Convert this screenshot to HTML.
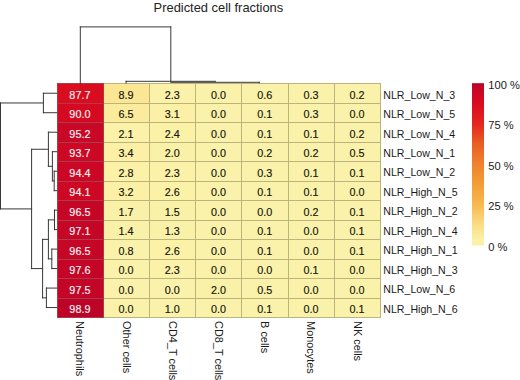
<!DOCTYPE html>
<html><head><meta charset="utf-8"><style>
html,body{margin:0;padding:0;background:#fff;width:520px;height:380px;overflow:hidden;}
svg{display:block;font-family:"Liberation Sans",sans-serif;}
</style></head><body>
<svg width="520" height="380" viewBox="0 0 520 380" font-family="Liberation Sans, sans-serif"><rect x="0" y="0" width="520" height="380" fill="#fff"/>
<text transform="translate(218.4,11.5) scale(1.04,1)" font-size="12.4" text-anchor="middle" fill="#222">Predicted cell fractions</text>
<rect x="57.5" y="83.5" width="46.0" height="20.0" fill="#da0c20"/>
<rect x="103.5" y="83.5" width="46.0" height="20.0" fill="#fae693"/>
<rect x="149.5" y="83.5" width="46.0" height="20.0" fill="#fbf1a8"/>
<rect x="195.5" y="83.5" width="46.0" height="20.0" fill="#faf2ab"/>
<rect x="241.5" y="83.5" width="47.0" height="20.0" fill="#faf2aa"/>
<rect x="288.5" y="83.5" width="46.0" height="20.0" fill="#faf2ab"/>
<rect x="334.5" y="83.5" width="46.0" height="20.0" fill="#faf2ab"/>
<rect x="57.5" y="103.5" width="46.0" height="19.0" fill="#d50a22"/>
<rect x="103.5" y="103.5" width="46.0" height="19.0" fill="#fbeb9c"/>
<rect x="149.5" y="103.5" width="46.0" height="19.0" fill="#fbf0a6"/>
<rect x="195.5" y="103.5" width="46.0" height="19.0" fill="#faf2ab"/>
<rect x="241.5" y="103.5" width="47.0" height="19.0" fill="#faf2ab"/>
<rect x="288.5" y="103.5" width="46.0" height="19.0" fill="#faf2ab"/>
<rect x="334.5" y="103.5" width="46.0" height="19.0" fill="#faf2ab"/>
<rect x="57.5" y="122.5" width="46.0" height="20.0" fill="#c90726"/>
<rect x="103.5" y="122.5" width="46.0" height="20.0" fill="#fbf1a8"/>
<rect x="149.5" y="122.5" width="46.0" height="20.0" fill="#fbf1a7"/>
<rect x="195.5" y="122.5" width="46.0" height="20.0" fill="#faf2ab"/>
<rect x="241.5" y="122.5" width="47.0" height="20.0" fill="#faf2ab"/>
<rect x="288.5" y="122.5" width="46.0" height="20.0" fill="#faf2ab"/>
<rect x="334.5" y="122.5" width="46.0" height="20.0" fill="#faf2ab"/>
<rect x="57.5" y="142.5" width="46.0" height="19.0" fill="#cc0825"/>
<rect x="103.5" y="142.5" width="46.0" height="19.0" fill="#fbf0a6"/>
<rect x="149.5" y="142.5" width="46.0" height="19.0" fill="#faf1a8"/>
<rect x="195.5" y="142.5" width="46.0" height="19.0" fill="#faf2ab"/>
<rect x="241.5" y="142.5" width="47.0" height="19.0" fill="#faf2ab"/>
<rect x="288.5" y="142.5" width="46.0" height="19.0" fill="#faf2ab"/>
<rect x="334.5" y="142.5" width="46.0" height="19.0" fill="#faf2aa"/>
<rect x="57.5" y="161.5" width="46.0" height="20.0" fill="#cb0725"/>
<rect x="103.5" y="161.5" width="46.0" height="20.0" fill="#fbf1a7"/>
<rect x="149.5" y="161.5" width="46.0" height="20.0" fill="#fbf1a8"/>
<rect x="195.5" y="161.5" width="46.0" height="20.0" fill="#faf2ab"/>
<rect x="241.5" y="161.5" width="47.0" height="20.0" fill="#faf2ab"/>
<rect x="288.5" y="161.5" width="46.0" height="20.0" fill="#faf2ab"/>
<rect x="334.5" y="161.5" width="46.0" height="20.0" fill="#faf2ab"/>
<rect x="57.5" y="181.5" width="46.0" height="19.0" fill="#cc0825"/>
<rect x="103.5" y="181.5" width="46.0" height="19.0" fill="#fbf0a6"/>
<rect x="149.5" y="181.5" width="46.0" height="19.0" fill="#fbf1a7"/>
<rect x="195.5" y="181.5" width="46.0" height="19.0" fill="#faf2ab"/>
<rect x="241.5" y="181.5" width="47.0" height="19.0" fill="#faf2ab"/>
<rect x="288.5" y="181.5" width="46.0" height="19.0" fill="#faf2ab"/>
<rect x="334.5" y="181.5" width="46.0" height="19.0" fill="#faf2ab"/>
<rect x="57.5" y="200.5" width="46.0" height="20.0" fill="#c60627"/>
<rect x="103.5" y="200.5" width="46.0" height="20.0" fill="#faf1a8"/>
<rect x="149.5" y="200.5" width="46.0" height="20.0" fill="#faf1a9"/>
<rect x="195.5" y="200.5" width="46.0" height="20.0" fill="#faf2ab"/>
<rect x="241.5" y="200.5" width="47.0" height="20.0" fill="#faf2ab"/>
<rect x="288.5" y="200.5" width="46.0" height="20.0" fill="#faf2ab"/>
<rect x="334.5" y="200.5" width="46.0" height="20.0" fill="#faf2ab"/>
<rect x="57.5" y="220.5" width="46.0" height="19.0" fill="#c50627"/>
<rect x="103.5" y="220.5" width="46.0" height="19.0" fill="#faf1a9"/>
<rect x="149.5" y="220.5" width="46.0" height="19.0" fill="#faf1a9"/>
<rect x="195.5" y="220.5" width="46.0" height="19.0" fill="#faf2ab"/>
<rect x="241.5" y="220.5" width="47.0" height="19.0" fill="#faf2ab"/>
<rect x="288.5" y="220.5" width="46.0" height="19.0" fill="#faf2ab"/>
<rect x="334.5" y="220.5" width="46.0" height="19.0" fill="#faf2ab"/>
<rect x="57.5" y="239.5" width="46.0" height="20.0" fill="#c60627"/>
<rect x="103.5" y="239.5" width="46.0" height="20.0" fill="#faf2aa"/>
<rect x="149.5" y="239.5" width="46.0" height="20.0" fill="#fbf1a7"/>
<rect x="195.5" y="239.5" width="46.0" height="20.0" fill="#faf2ab"/>
<rect x="241.5" y="239.5" width="47.0" height="20.0" fill="#faf2ab"/>
<rect x="288.5" y="239.5" width="46.0" height="20.0" fill="#faf2ab"/>
<rect x="334.5" y="239.5" width="46.0" height="20.0" fill="#faf2ab"/>
<rect x="57.5" y="259.5" width="46.0" height="19.0" fill="#c40528"/>
<rect x="103.5" y="259.5" width="46.0" height="19.0" fill="#faf2ab"/>
<rect x="149.5" y="259.5" width="46.0" height="19.0" fill="#fbf1a8"/>
<rect x="195.5" y="259.5" width="46.0" height="19.0" fill="#faf2ab"/>
<rect x="241.5" y="259.5" width="47.0" height="19.0" fill="#faf2ab"/>
<rect x="288.5" y="259.5" width="46.0" height="19.0" fill="#faf2ab"/>
<rect x="334.5" y="259.5" width="46.0" height="19.0" fill="#faf2ab"/>
<rect x="57.5" y="278.5" width="46.0" height="20.0" fill="#c40528"/>
<rect x="103.5" y="278.5" width="46.0" height="20.0" fill="#faf2ab"/>
<rect x="149.5" y="278.5" width="46.0" height="20.0" fill="#faf2ab"/>
<rect x="195.5" y="278.5" width="46.0" height="20.0" fill="#faf1a8"/>
<rect x="241.5" y="278.5" width="47.0" height="20.0" fill="#faf2aa"/>
<rect x="288.5" y="278.5" width="46.0" height="20.0" fill="#faf2ab"/>
<rect x="334.5" y="278.5" width="46.0" height="20.0" fill="#faf2ab"/>
<rect x="57.5" y="298.5" width="46.0" height="19.0" fill="#bd0327"/>
<rect x="103.5" y="298.5" width="46.0" height="19.0" fill="#faf2ab"/>
<rect x="149.5" y="298.5" width="46.0" height="19.0" fill="#faf2aa"/>
<rect x="195.5" y="298.5" width="46.0" height="19.0" fill="#faf2ab"/>
<rect x="241.5" y="298.5" width="47.0" height="19.0" fill="#faf2ab"/>
<rect x="288.5" y="298.5" width="46.0" height="19.0" fill="#faf2ab"/>
<rect x="334.5" y="298.5" width="46.0" height="19.0" fill="#faf2ab"/>
<g stroke-width="1" fill="none">
<line x1="57.0" y1="83.5" x2="103.5" y2="83.5" stroke="#aa3c4b"/>
<line x1="104.0" y1="83.5" x2="381.0" y2="83.5" stroke="#bdb47c"/>
<line x1="57.0" y1="103.5" x2="103.5" y2="103.5" stroke="#aa3c4b"/>
<line x1="104.0" y1="103.5" x2="381.0" y2="103.5" stroke="#bdb47c"/>
<line x1="57.0" y1="122.5" x2="103.5" y2="122.5" stroke="#aa3c4b"/>
<line x1="104.0" y1="122.5" x2="381.0" y2="122.5" stroke="#bdb47c"/>
<line x1="57.0" y1="142.5" x2="103.5" y2="142.5" stroke="#aa3c4b"/>
<line x1="104.0" y1="142.5" x2="381.0" y2="142.5" stroke="#bdb47c"/>
<line x1="57.0" y1="161.5" x2="103.5" y2="161.5" stroke="#aa3c4b"/>
<line x1="104.0" y1="161.5" x2="381.0" y2="161.5" stroke="#bdb47c"/>
<line x1="57.0" y1="181.5" x2="103.5" y2="181.5" stroke="#aa3c4b"/>
<line x1="104.0" y1="181.5" x2="381.0" y2="181.5" stroke="#bdb47c"/>
<line x1="57.0" y1="200.5" x2="103.5" y2="200.5" stroke="#aa3c4b"/>
<line x1="104.0" y1="200.5" x2="381.0" y2="200.5" stroke="#bdb47c"/>
<line x1="57.0" y1="220.5" x2="103.5" y2="220.5" stroke="#aa3c4b"/>
<line x1="104.0" y1="220.5" x2="381.0" y2="220.5" stroke="#bdb47c"/>
<line x1="57.0" y1="239.5" x2="103.5" y2="239.5" stroke="#aa3c4b"/>
<line x1="104.0" y1="239.5" x2="381.0" y2="239.5" stroke="#bdb47c"/>
<line x1="57.0" y1="259.5" x2="103.5" y2="259.5" stroke="#aa3c4b"/>
<line x1="104.0" y1="259.5" x2="381.0" y2="259.5" stroke="#bdb47c"/>
<line x1="57.0" y1="278.5" x2="103.5" y2="278.5" stroke="#aa3c4b"/>
<line x1="104.0" y1="278.5" x2="381.0" y2="278.5" stroke="#bdb47c"/>
<line x1="57.0" y1="298.5" x2="103.5" y2="298.5" stroke="#aa3c4b"/>
<line x1="104.0" y1="298.5" x2="381.0" y2="298.5" stroke="#bdb47c"/>
<line x1="57.0" y1="317.5" x2="103.5" y2="317.5" stroke="#aa3c4b"/>
<line x1="104.0" y1="317.5" x2="381.0" y2="317.5" stroke="#bdb47c"/>
<line x1="57.5" y1="83.0" x2="57.5" y2="318.0" stroke="#aa3c4b"/>
<line x1="103.5" y1="83.0" x2="103.5" y2="318.0" stroke="#a04038"/>
<line x1="149.5" y1="83.0" x2="149.5" y2="318.0" stroke="#bdb47c"/>
<line x1="195.5" y1="83.0" x2="195.5" y2="318.0" stroke="#bdb47c"/>
<line x1="241.5" y1="83.0" x2="241.5" y2="318.0" stroke="#bdb47c"/>
<line x1="288.5" y1="83.0" x2="288.5" y2="318.0" stroke="#bdb47c"/>
<line x1="334.5" y1="83.0" x2="334.5" y2="318.0" stroke="#bdb47c"/>
<line x1="380.5" y1="83.0" x2="380.5" y2="318.0" stroke="#bdb47c"/>
</g>
<text transform="translate(79.90,98.74) scale(1.04,1)" font-size="10.4" text-anchor="middle" fill="#f8f4f4" stroke="#f8f4f4" stroke-width="0.15">87.7</text>
<text transform="translate(126.10,98.74) scale(1.04,1)" font-size="10.4" text-anchor="middle" fill="#16160c" stroke="#16160c" stroke-width="0.15">8.9</text>
<text transform="translate(172.30,98.74) scale(1.04,1)" font-size="10.4" text-anchor="middle" fill="#16160c" stroke="#16160c" stroke-width="0.15">2.3</text>
<text transform="translate(218.50,98.74) scale(1.04,1)" font-size="10.4" text-anchor="middle" fill="#16160c" stroke="#16160c" stroke-width="0.15">0.0</text>
<text transform="translate(264.70,98.74) scale(1.04,1)" font-size="10.4" text-anchor="middle" fill="#16160c" stroke="#16160c" stroke-width="0.15">0.6</text>
<text transform="translate(310.90,98.74) scale(1.04,1)" font-size="10.4" text-anchor="middle" fill="#16160c" stroke="#16160c" stroke-width="0.15">0.3</text>
<text transform="translate(357.10,98.74) scale(1.04,1)" font-size="10.4" text-anchor="middle" fill="#16160c" stroke="#16160c" stroke-width="0.15">0.2</text>
<text transform="translate(383.3,98.54) scale(1.02,1)" font-size="10.4" fill="#1a1a1a" stroke="#1a1a1a" stroke-width="0.0">NLR_Low_N_3</text>
<text transform="translate(79.90,118.22) scale(1.04,1)" font-size="10.4" text-anchor="middle" fill="#f8f4f4" stroke="#f8f4f4" stroke-width="0.15">90.0</text>
<text transform="translate(126.10,118.22) scale(1.04,1)" font-size="10.4" text-anchor="middle" fill="#16160c" stroke="#16160c" stroke-width="0.15">6.5</text>
<text transform="translate(172.30,118.22) scale(1.04,1)" font-size="10.4" text-anchor="middle" fill="#16160c" stroke="#16160c" stroke-width="0.15">3.1</text>
<text transform="translate(218.50,118.22) scale(1.04,1)" font-size="10.4" text-anchor="middle" fill="#16160c" stroke="#16160c" stroke-width="0.15">0.0</text>
<text transform="translate(264.70,118.22) scale(1.04,1)" font-size="10.4" text-anchor="middle" fill="#16160c" stroke="#16160c" stroke-width="0.15">0.1</text>
<text transform="translate(310.90,118.22) scale(1.04,1)" font-size="10.4" text-anchor="middle" fill="#16160c" stroke="#16160c" stroke-width="0.15">0.3</text>
<text transform="translate(357.10,118.22) scale(1.04,1)" font-size="10.4" text-anchor="middle" fill="#16160c" stroke="#16160c" stroke-width="0.15">0.0</text>
<text transform="translate(383.3,118.02) scale(1.02,1)" font-size="10.4" fill="#1a1a1a" stroke="#1a1a1a" stroke-width="0.0">NLR_Low_N_5</text>
<text transform="translate(79.90,137.71) scale(1.04,1)" font-size="10.4" text-anchor="middle" fill="#f8f4f4" stroke="#f8f4f4" stroke-width="0.15">95.2</text>
<text transform="translate(126.10,137.71) scale(1.04,1)" font-size="10.4" text-anchor="middle" fill="#16160c" stroke="#16160c" stroke-width="0.15">2.1</text>
<text transform="translate(172.30,137.71) scale(1.04,1)" font-size="10.4" text-anchor="middle" fill="#16160c" stroke="#16160c" stroke-width="0.15">2.4</text>
<text transform="translate(218.50,137.71) scale(1.04,1)" font-size="10.4" text-anchor="middle" fill="#16160c" stroke="#16160c" stroke-width="0.15">0.0</text>
<text transform="translate(264.70,137.71) scale(1.04,1)" font-size="10.4" text-anchor="middle" fill="#16160c" stroke="#16160c" stroke-width="0.15">0.1</text>
<text transform="translate(310.90,137.71) scale(1.04,1)" font-size="10.4" text-anchor="middle" fill="#16160c" stroke="#16160c" stroke-width="0.15">0.1</text>
<text transform="translate(357.10,137.71) scale(1.04,1)" font-size="10.4" text-anchor="middle" fill="#16160c" stroke="#16160c" stroke-width="0.15">0.2</text>
<text transform="translate(383.3,137.51) scale(1.02,1)" font-size="10.4" fill="#1a1a1a" stroke="#1a1a1a" stroke-width="0.0">NLR_Low_N_4</text>
<text transform="translate(79.90,157.19) scale(1.04,1)" font-size="10.4" text-anchor="middle" fill="#f8f4f4" stroke="#f8f4f4" stroke-width="0.15">93.7</text>
<text transform="translate(126.10,157.19) scale(1.04,1)" font-size="10.4" text-anchor="middle" fill="#16160c" stroke="#16160c" stroke-width="0.15">3.4</text>
<text transform="translate(172.30,157.19) scale(1.04,1)" font-size="10.4" text-anchor="middle" fill="#16160c" stroke="#16160c" stroke-width="0.15">2.0</text>
<text transform="translate(218.50,157.19) scale(1.04,1)" font-size="10.4" text-anchor="middle" fill="#16160c" stroke="#16160c" stroke-width="0.15">0.0</text>
<text transform="translate(264.70,157.19) scale(1.04,1)" font-size="10.4" text-anchor="middle" fill="#16160c" stroke="#16160c" stroke-width="0.15">0.2</text>
<text transform="translate(310.90,157.19) scale(1.04,1)" font-size="10.4" text-anchor="middle" fill="#16160c" stroke="#16160c" stroke-width="0.15">0.2</text>
<text transform="translate(357.10,157.19) scale(1.04,1)" font-size="10.4" text-anchor="middle" fill="#16160c" stroke="#16160c" stroke-width="0.15">0.5</text>
<text transform="translate(383.3,156.99) scale(1.02,1)" font-size="10.4" fill="#1a1a1a" stroke="#1a1a1a" stroke-width="0.0">NLR_Low_N_1</text>
<text transform="translate(79.90,176.68) scale(1.04,1)" font-size="10.4" text-anchor="middle" fill="#f8f4f4" stroke="#f8f4f4" stroke-width="0.15">94.4</text>
<text transform="translate(126.10,176.68) scale(1.04,1)" font-size="10.4" text-anchor="middle" fill="#16160c" stroke="#16160c" stroke-width="0.15">2.8</text>
<text transform="translate(172.30,176.68) scale(1.04,1)" font-size="10.4" text-anchor="middle" fill="#16160c" stroke="#16160c" stroke-width="0.15">2.3</text>
<text transform="translate(218.50,176.68) scale(1.04,1)" font-size="10.4" text-anchor="middle" fill="#16160c" stroke="#16160c" stroke-width="0.15">0.0</text>
<text transform="translate(264.70,176.68) scale(1.04,1)" font-size="10.4" text-anchor="middle" fill="#16160c" stroke="#16160c" stroke-width="0.15">0.3</text>
<text transform="translate(310.90,176.68) scale(1.04,1)" font-size="10.4" text-anchor="middle" fill="#16160c" stroke="#16160c" stroke-width="0.15">0.1</text>
<text transform="translate(357.10,176.68) scale(1.04,1)" font-size="10.4" text-anchor="middle" fill="#16160c" stroke="#16160c" stroke-width="0.15">0.1</text>
<text transform="translate(383.3,176.48) scale(1.02,1)" font-size="10.4" fill="#1a1a1a" stroke="#1a1a1a" stroke-width="0.0">NLR_Low_N_2</text>
<text transform="translate(79.90,196.16) scale(1.04,1)" font-size="10.4" text-anchor="middle" fill="#f8f4f4" stroke="#f8f4f4" stroke-width="0.15">94.1</text>
<text transform="translate(126.10,196.16) scale(1.04,1)" font-size="10.4" text-anchor="middle" fill="#16160c" stroke="#16160c" stroke-width="0.15">3.2</text>
<text transform="translate(172.30,196.16) scale(1.04,1)" font-size="10.4" text-anchor="middle" fill="#16160c" stroke="#16160c" stroke-width="0.15">2.6</text>
<text transform="translate(218.50,196.16) scale(1.04,1)" font-size="10.4" text-anchor="middle" fill="#16160c" stroke="#16160c" stroke-width="0.15">0.0</text>
<text transform="translate(264.70,196.16) scale(1.04,1)" font-size="10.4" text-anchor="middle" fill="#16160c" stroke="#16160c" stroke-width="0.15">0.1</text>
<text transform="translate(310.90,196.16) scale(1.04,1)" font-size="10.4" text-anchor="middle" fill="#16160c" stroke="#16160c" stroke-width="0.15">0.1</text>
<text transform="translate(357.10,196.16) scale(1.04,1)" font-size="10.4" text-anchor="middle" fill="#16160c" stroke="#16160c" stroke-width="0.15">0.0</text>
<text transform="translate(383.3,195.96) scale(1.02,1)" font-size="10.4" fill="#1a1a1a" stroke="#1a1a1a" stroke-width="0.0">NLR_High_N_5</text>
<text transform="translate(79.90,215.64) scale(1.04,1)" font-size="10.4" text-anchor="middle" fill="#f8f4f4" stroke="#f8f4f4" stroke-width="0.15">96.5</text>
<text transform="translate(126.10,215.64) scale(1.04,1)" font-size="10.4" text-anchor="middle" fill="#16160c" stroke="#16160c" stroke-width="0.15">1.7</text>
<text transform="translate(172.30,215.64) scale(1.04,1)" font-size="10.4" text-anchor="middle" fill="#16160c" stroke="#16160c" stroke-width="0.15">1.5</text>
<text transform="translate(218.50,215.64) scale(1.04,1)" font-size="10.4" text-anchor="middle" fill="#16160c" stroke="#16160c" stroke-width="0.15">0.0</text>
<text transform="translate(264.70,215.64) scale(1.04,1)" font-size="10.4" text-anchor="middle" fill="#16160c" stroke="#16160c" stroke-width="0.15">0.0</text>
<text transform="translate(310.90,215.64) scale(1.04,1)" font-size="10.4" text-anchor="middle" fill="#16160c" stroke="#16160c" stroke-width="0.15">0.2</text>
<text transform="translate(357.10,215.64) scale(1.04,1)" font-size="10.4" text-anchor="middle" fill="#16160c" stroke="#16160c" stroke-width="0.15">0.1</text>
<text transform="translate(383.3,215.44) scale(1.02,1)" font-size="10.4" fill="#1a1a1a" stroke="#1a1a1a" stroke-width="0.0">NLR_High_N_2</text>
<text transform="translate(79.90,235.12) scale(1.04,1)" font-size="10.4" text-anchor="middle" fill="#f8f4f4" stroke="#f8f4f4" stroke-width="0.15">97.1</text>
<text transform="translate(126.10,235.12) scale(1.04,1)" font-size="10.4" text-anchor="middle" fill="#16160c" stroke="#16160c" stroke-width="0.15">1.4</text>
<text transform="translate(172.30,235.12) scale(1.04,1)" font-size="10.4" text-anchor="middle" fill="#16160c" stroke="#16160c" stroke-width="0.15">1.3</text>
<text transform="translate(218.50,235.12) scale(1.04,1)" font-size="10.4" text-anchor="middle" fill="#16160c" stroke="#16160c" stroke-width="0.15">0.0</text>
<text transform="translate(264.70,235.12) scale(1.04,1)" font-size="10.4" text-anchor="middle" fill="#16160c" stroke="#16160c" stroke-width="0.15">0.1</text>
<text transform="translate(310.90,235.12) scale(1.04,1)" font-size="10.4" text-anchor="middle" fill="#16160c" stroke="#16160c" stroke-width="0.15">0.0</text>
<text transform="translate(357.10,235.12) scale(1.04,1)" font-size="10.4" text-anchor="middle" fill="#16160c" stroke="#16160c" stroke-width="0.15">0.1</text>
<text transform="translate(383.3,234.93) scale(1.02,1)" font-size="10.4" fill="#1a1a1a" stroke="#1a1a1a" stroke-width="0.0">NLR_High_N_4</text>
<text transform="translate(79.90,254.61) scale(1.04,1)" font-size="10.4" text-anchor="middle" fill="#f8f4f4" stroke="#f8f4f4" stroke-width="0.15">96.5</text>
<text transform="translate(126.10,254.61) scale(1.04,1)" font-size="10.4" text-anchor="middle" fill="#16160c" stroke="#16160c" stroke-width="0.15">0.8</text>
<text transform="translate(172.30,254.61) scale(1.04,1)" font-size="10.4" text-anchor="middle" fill="#16160c" stroke="#16160c" stroke-width="0.15">2.6</text>
<text transform="translate(218.50,254.61) scale(1.04,1)" font-size="10.4" text-anchor="middle" fill="#16160c" stroke="#16160c" stroke-width="0.15">0.0</text>
<text transform="translate(264.70,254.61) scale(1.04,1)" font-size="10.4" text-anchor="middle" fill="#16160c" stroke="#16160c" stroke-width="0.15">0.1</text>
<text transform="translate(310.90,254.61) scale(1.04,1)" font-size="10.4" text-anchor="middle" fill="#16160c" stroke="#16160c" stroke-width="0.15">0.0</text>
<text transform="translate(357.10,254.61) scale(1.04,1)" font-size="10.4" text-anchor="middle" fill="#16160c" stroke="#16160c" stroke-width="0.15">0.1</text>
<text transform="translate(383.3,254.41) scale(1.02,1)" font-size="10.4" fill="#1a1a1a" stroke="#1a1a1a" stroke-width="0.0">NLR_High_N_1</text>
<text transform="translate(79.90,274.09) scale(1.04,1)" font-size="10.4" text-anchor="middle" fill="#f8f4f4" stroke="#f8f4f4" stroke-width="0.15">97.6</text>
<text transform="translate(126.10,274.09) scale(1.04,1)" font-size="10.4" text-anchor="middle" fill="#16160c" stroke="#16160c" stroke-width="0.15">0.0</text>
<text transform="translate(172.30,274.09) scale(1.04,1)" font-size="10.4" text-anchor="middle" fill="#16160c" stroke="#16160c" stroke-width="0.15">2.3</text>
<text transform="translate(218.50,274.09) scale(1.04,1)" font-size="10.4" text-anchor="middle" fill="#16160c" stroke="#16160c" stroke-width="0.15">0.0</text>
<text transform="translate(264.70,274.09) scale(1.04,1)" font-size="10.4" text-anchor="middle" fill="#16160c" stroke="#16160c" stroke-width="0.15">0.0</text>
<text transform="translate(310.90,274.09) scale(1.04,1)" font-size="10.4" text-anchor="middle" fill="#16160c" stroke="#16160c" stroke-width="0.15">0.1</text>
<text transform="translate(357.10,274.09) scale(1.04,1)" font-size="10.4" text-anchor="middle" fill="#16160c" stroke="#16160c" stroke-width="0.15">0.0</text>
<text transform="translate(383.3,273.89) scale(1.02,1)" font-size="10.4" fill="#1a1a1a" stroke="#1a1a1a" stroke-width="0.0">NLR_High_N_3</text>
<text transform="translate(79.90,293.58) scale(1.04,1)" font-size="10.4" text-anchor="middle" fill="#f8f4f4" stroke="#f8f4f4" stroke-width="0.15">97.5</text>
<text transform="translate(126.10,293.58) scale(1.04,1)" font-size="10.4" text-anchor="middle" fill="#16160c" stroke="#16160c" stroke-width="0.15">0.0</text>
<text transform="translate(172.30,293.58) scale(1.04,1)" font-size="10.4" text-anchor="middle" fill="#16160c" stroke="#16160c" stroke-width="0.15">0.0</text>
<text transform="translate(218.50,293.58) scale(1.04,1)" font-size="10.4" text-anchor="middle" fill="#16160c" stroke="#16160c" stroke-width="0.15">2.0</text>
<text transform="translate(264.70,293.58) scale(1.04,1)" font-size="10.4" text-anchor="middle" fill="#16160c" stroke="#16160c" stroke-width="0.15">0.5</text>
<text transform="translate(310.90,293.58) scale(1.04,1)" font-size="10.4" text-anchor="middle" fill="#16160c" stroke="#16160c" stroke-width="0.15">0.0</text>
<text transform="translate(357.10,293.58) scale(1.04,1)" font-size="10.4" text-anchor="middle" fill="#16160c" stroke="#16160c" stroke-width="0.15">0.0</text>
<text transform="translate(383.3,293.38) scale(1.02,1)" font-size="10.4" fill="#1a1a1a" stroke="#1a1a1a" stroke-width="0.0">NLR_Low_N_6</text>
<text transform="translate(79.90,313.06) scale(1.04,1)" font-size="10.4" text-anchor="middle" fill="#f8f4f4" stroke="#f8f4f4" stroke-width="0.15">98.9</text>
<text transform="translate(126.10,313.06) scale(1.04,1)" font-size="10.4" text-anchor="middle" fill="#16160c" stroke="#16160c" stroke-width="0.15">0.0</text>
<text transform="translate(172.30,313.06) scale(1.04,1)" font-size="10.4" text-anchor="middle" fill="#16160c" stroke="#16160c" stroke-width="0.15">1.0</text>
<text transform="translate(218.50,313.06) scale(1.04,1)" font-size="10.4" text-anchor="middle" fill="#16160c" stroke="#16160c" stroke-width="0.15">0.0</text>
<text transform="translate(264.70,313.06) scale(1.04,1)" font-size="10.4" text-anchor="middle" fill="#16160c" stroke="#16160c" stroke-width="0.15">0.1</text>
<text transform="translate(310.90,313.06) scale(1.04,1)" font-size="10.4" text-anchor="middle" fill="#16160c" stroke="#16160c" stroke-width="0.15">0.0</text>
<text transform="translate(357.10,313.06) scale(1.04,1)" font-size="10.4" text-anchor="middle" fill="#16160c" stroke="#16160c" stroke-width="0.15">0.1</text>
<text transform="translate(383.3,312.86) scale(1.02,1)" font-size="10.4" fill="#1a1a1a" stroke="#1a1a1a" stroke-width="0.0">NLR_High_N_6</text>
<text transform="translate(76.40,321.1) rotate(90) scale(1.07,1)" font-size="10.2" fill="#1a1a1a" stroke="#1a1a1a" stroke-width="0.0">Neutrophils</text>
<text transform="translate(122.60,321.1) rotate(90) scale(1.07,1)" font-size="10.2" fill="#1a1a1a" stroke="#1a1a1a" stroke-width="0.0">Other cells</text>
<text transform="translate(168.80,321.1) rotate(90) scale(1.07,1)" font-size="10.2" fill="#1a1a1a" stroke="#1a1a1a" stroke-width="0.0">CD4_T cells</text>
<text transform="translate(215.00,321.1) rotate(90) scale(1.07,1)" font-size="10.2" fill="#1a1a1a" stroke="#1a1a1a" stroke-width="0.0">CD8_T cells</text>
<text transform="translate(261.20,321.1) rotate(90) scale(1.07,1)" font-size="10.2" fill="#1a1a1a" stroke="#1a1a1a" stroke-width="0.0">B cells</text>
<text transform="translate(307.40,321.1) rotate(90) scale(1.07,1)" font-size="10.2" fill="#1a1a1a" stroke="#1a1a1a" stroke-width="0.0">Monocytes</text>
<text transform="translate(353.60,321.1) rotate(90) scale(1.07,1)" font-size="10.2" fill="#1a1a1a" stroke="#1a1a1a" stroke-width="0.0">NK cells</text>
<g stroke="#383838" stroke-width="1" stroke-linecap="square" fill="none">
<line x1="43.40" y1="93.24" x2="43.40" y2="112.72"/>
<line x1="43.40" y1="93.24" x2="56.80" y2="93.24"/>
<line x1="43.40" y1="112.72" x2="56.80" y2="112.72"/>
<line x1="54.20" y1="171.18" x2="54.20" y2="190.66"/>
<line x1="54.20" y1="171.18" x2="56.80" y2="171.18"/>
<line x1="54.20" y1="190.66" x2="56.80" y2="190.66"/>
<line x1="52.40" y1="151.69" x2="52.40" y2="180.92"/>
<line x1="52.40" y1="151.69" x2="56.80" y2="151.69"/>
<line x1="52.40" y1="180.92" x2="54.20" y2="180.92"/>
<line x1="48.40" y1="132.21" x2="48.40" y2="166.30"/>
<line x1="48.40" y1="132.21" x2="56.80" y2="132.21"/>
<line x1="48.40" y1="166.30" x2="52.40" y2="166.30"/>
<line x1="54.50" y1="210.14" x2="54.50" y2="229.62"/>
<line x1="54.50" y1="210.14" x2="56.80" y2="210.14"/>
<line x1="54.50" y1="229.62" x2="56.80" y2="229.62"/>
<line x1="51.80" y1="249.11" x2="51.80" y2="268.59"/>
<line x1="51.80" y1="249.11" x2="56.80" y2="249.11"/>
<line x1="51.80" y1="268.59" x2="56.80" y2="268.59"/>
<line x1="48.40" y1="219.88" x2="48.40" y2="258.85"/>
<line x1="48.40" y1="219.88" x2="54.50" y2="219.88"/>
<line x1="48.40" y1="258.85" x2="51.80" y2="258.85"/>
<line x1="46.40" y1="288.08" x2="46.40" y2="307.56"/>
<line x1="46.40" y1="288.08" x2="56.80" y2="288.08"/>
<line x1="46.40" y1="307.56" x2="56.80" y2="307.56"/>
<line x1="42.60" y1="239.37" x2="42.60" y2="297.82"/>
<line x1="42.60" y1="239.37" x2="48.40" y2="239.37"/>
<line x1="42.60" y1="297.82" x2="46.40" y2="297.82"/>
<line x1="31.60" y1="149.26" x2="31.60" y2="268.59"/>
<line x1="31.60" y1="149.26" x2="48.40" y2="149.26"/>
<line x1="31.60" y1="268.59" x2="42.60" y2="268.59"/>
<line x1="0.50" y1="102.98" x2="0.50" y2="208.92"/>
<line x1="0.50" y1="102.98" x2="43.40" y2="102.98"/>
<line x1="0.50" y1="208.92" x2="31.60" y2="208.92"/>
<line x1="126.10" y1="81.30" x2="215.50" y2="81.30"/>
<line x1="126.10" y1="81.30" x2="126.10" y2="83.00"/>
<line x1="170.80" y1="82.30" x2="259.20" y2="82.30"/>
<line x1="259.20" y1="82.30" x2="259.20" y2="83.00"/>
<line x1="80.30" y1="26.90" x2="170.80" y2="26.90"/>
<line x1="80.30" y1="26.90" x2="80.30" y2="83.50"/>
<line x1="170.80" y1="26.90" x2="170.80" y2="81.30"/>
</g>
<defs><linearGradient id="lg" x1="0" y1="1" x2="0" y2="0"><stop offset="0.000" stop-color="#faf2ab"/><stop offset="0.040" stop-color="#fbf0a5"/><stop offset="0.125" stop-color="#fade86"/><stop offset="0.250" stop-color="#f8b950"/><stop offset="0.375" stop-color="#f29e37"/><stop offset="0.500" stop-color="#f0822d"/><stop offset="0.625" stop-color="#e95f23"/><stop offset="0.750" stop-color="#e4261e"/><stop offset="0.875" stop-color="#da0c20"/><stop offset="0.980" stop-color="#c30528"/><stop offset="1.000" stop-color="#b60026"/></linearGradient></defs>
<rect x="472" y="83.2" width="12" height="162.4" fill="url(#lg)"/>
<text transform="translate(488.3,250.80) scale(1.06,1)" font-size="10.5" fill="#1a1a1a" stroke="#1a1a1a" stroke-width="0.0">0 %</text>
<text transform="translate(488.3,210.25) scale(1.06,1)" font-size="10.5" fill="#1a1a1a" stroke="#1a1a1a" stroke-width="0.0">25 %</text>
<text transform="translate(488.3,169.70) scale(1.06,1)" font-size="10.5" fill="#1a1a1a" stroke="#1a1a1a" stroke-width="0.0">50 %</text>
<text transform="translate(488.3,129.15) scale(1.06,1)" font-size="10.5" fill="#1a1a1a" stroke="#1a1a1a" stroke-width="0.0">75 %</text>
<text transform="translate(488.3,88.60) scale(1.06,1)" font-size="10.5" fill="#1a1a1a" stroke="#1a1a1a" stroke-width="0.0">100 %</text></svg>
</body></html>
